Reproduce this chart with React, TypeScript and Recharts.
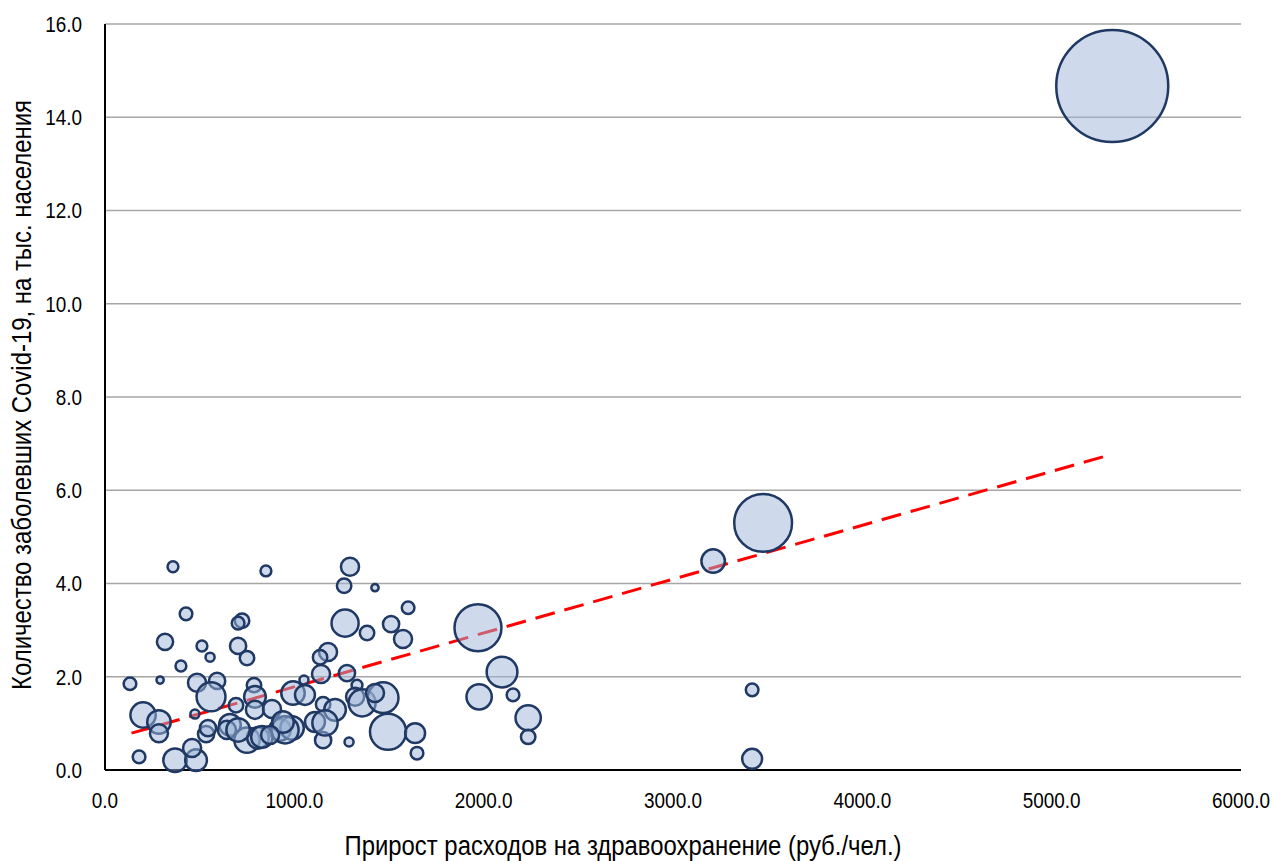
import React from 'react';
import {
    ScatterChart,
    Scatter,
    XAxis,
    YAxis,
    ZAxis,
    CartesianGrid,
    ReferenceLine,
    Label,
} from 'recharts';

// прирост расходов на здравоохранение (руб./чел.)
const spendingGrowth = [
    359, 850, 428, 724, 703, 317, 512, 555, 703, 750, 401, 132, 291, 486, 592, 560, 787, 792,
    201, 285, 285, 475, 692, 180, 370, 481, 460, 534, 544, 660, 644, 750, 808, 792, 882, 924,
    988, 993, 1051, 1109, 1152, 1152, 1141, 1178, 1136, 1215, 1162, 1294, 1263, 1426, 1268,
    1384, 1601, 1511, 1574, 1278, 1331, 1321, 1358, 1469, 1426, 1495, 1638, 1648, 1289, 1970,
    2097, 1976, 2155, 2235, 2235, 3212, 3476, 3418, 3418, 5320, 829, 951, 940, 703, 872, 1056,
];

// заболевшие Covid-19 на тыс. населения
const casesPerThousand = [
    4.36, 4.27, 3.35, 3.2, 3.15, 2.75, 2.66, 2.42, 2.66, 2.4, 2.23, 1.85, 1.93, 1.87, 1.91, 1.57,
    1.82, 1.57, 1.18, 1.03, 0.79, 1.2, 1.39, 0.28, 0.21, 0.21, 0.47, 0.77, 0.9, 0.97, 0.86, 0.64,
    0.69, 1.29, 1.31, 0.86, 0.9, 1.65, 1.93, 1.03, 1.41, 0.64, 2.06, 2.53, 2.42, 1.29, 1.01, 4.36,
    3.95, 3.91, 3.15, 2.94, 3.48, 3.13, 2.81, 2.08, 1.82, 1.57, 1.44, 1.55, 1.65, 0.82, 0.79, 0.36,
    0.6, 3.05, 2.1, 1.57, 1.61, 1.12, 0.71, 4.48, 5.3, 1.72, 0.24, 14.67, 0.71, 0.86, 1.03, 0.86,
    0.75, 1.61,
];

// численность населения (тыс. чел.) — размер пузырька
const population = [
    119, 119, 162, 211, 162, 267, 119, 83, 267, 211, 119, 162, 53, 330, 267, 845, 211, 475,
    647, 558, 330, 83, 211, 162, 558, 475, 330, 267, 267, 475, 330, 647, 475, 330, 330, 475,
    558, 558, 83, 400, 211, 267, 330, 330, 211, 475, 647, 330, 211, 53, 743, 211, 162, 267,
    330, 267, 119, 330, 743, 954, 330, 1320, 400, 162, 83, 2231, 954, 647, 162, 647, 211, 558,
    3379, 162, 400, 12685, 475, 743, 475, 558, 330, 400,
];

const xTicks = [0, 1000, 2000, 3000, 4000, 5000, 6000];
const yTicks = [0, 2, 4, 6, 8, 10, 12, 14, 16];

// линия тренда (концы)
const trendStart = { x: 140, y: 0.79 };
const trendEnd = { x: 5300, y: 6.75 };

const data = spendingGrowth.map((x, i) => ({
    x,
    y: casesPerThousand[i],
    z: population[i],
}));

const FONT = '"Liberation Sans", Arial, sans-serif';

// узкий шрифт подписей (как Arial Narrow)
const NarrowTick = (props: any) => {
    const { x, y, payload, anchor, dy } = props;
    return (
        <g transform={`translate(${x},${y})`}>
            <text
                transform="scale(0.86,1)"
                textAnchor={anchor}
                dy={dy}
                fontSize={22}
                fontFamily={FONT}
                fill="#000"
            >
                {Number(payload.value).toFixed(1)}
            </text>
        </g>
    );
};

const App: React.FC = () => {
    return (
        <div style={{ position: 'absolute', left: 0, top: 0, width: 1273, height: 861, background: '#fff' }}>
            <ScatterChart
                width={1273}
                height={861}
                margin={{ top: 24, right: 32, bottom: 0, left: 0 }}
            >
                <CartesianGrid vertical={false} stroke="#a6a6a6" strokeWidth={1.5} />
                <XAxis
                    type="number"
                    dataKey="x"
                    domain={[0, 6000]}
                    ticks={xTicks}
                    tick={(p: any) => <NarrowTick {...p} anchor="middle" dy="0.71em" />}
                    tickLine={false}
                    tickSize={0}
                    tickMargin={22}
                    axisLine={{ stroke: '#000', strokeWidth: 2 }}
                    height={91}
                    interval={0}
                >
                    <Label
                        content={() => (
                            <text
                                x={623}
                                y={855}
                                textAnchor="middle"
                                fontSize={27}
                                fontFamily={FONT}
                                fill="#000"
                                textLength={557}
                                lengthAdjust="spacingAndGlyphs"
                            >
                                Прирост расходов на здравоохранение (руб./чел.)
                            </text>
                        )}
                    />
                </XAxis>
                <YAxis
                    type="number"
                    dataKey="y"
                    domain={[0, 16]}
                    ticks={yTicks}
                    tick={(p: any) => <NarrowTick {...p} anchor="end" dy="0.355em" />}
                    tickLine={false}
                    tickSize={0}
                    tickMargin={23}
                    axisLine={{ stroke: '#000', strokeWidth: 2 }}
                    width={105}
                    interval={0}
                >
                    <Label
                        content={() => (
                            <text
                                x={31}
                                y={395}
                                textAnchor="middle"
                                fontSize={27}
                                fontFamily={FONT}
                                fill="#000"
                                textLength={590}
                                lengthAdjust="spacingAndGlyphs"
                                transform="rotate(-90 31 395)"
                            >
                                Количество заболевших Covid-19, на тыс. населения
                            </text>
                        )}
                    />
                </YAxis>
                <ZAxis type="number" dataKey="z" domain={[0, 12685]} range={[0, 9852]} />
                <Scatter
                    data={data}
                    fill="#9db6d8"
                    fillOpacity={0.5}
                    stroke="#1f3864"
                    strokeWidth={2.5}
                    isAnimationActive={false}
                />
                <ReferenceLine
                    segment={[trendStart, trendEnd]}
                    stroke="#ff0000"
                    strokeWidth={3}
                    strokeDasharray="20 10"
                />
            </ScatterChart>
        </div>
    );
};

export default App;
